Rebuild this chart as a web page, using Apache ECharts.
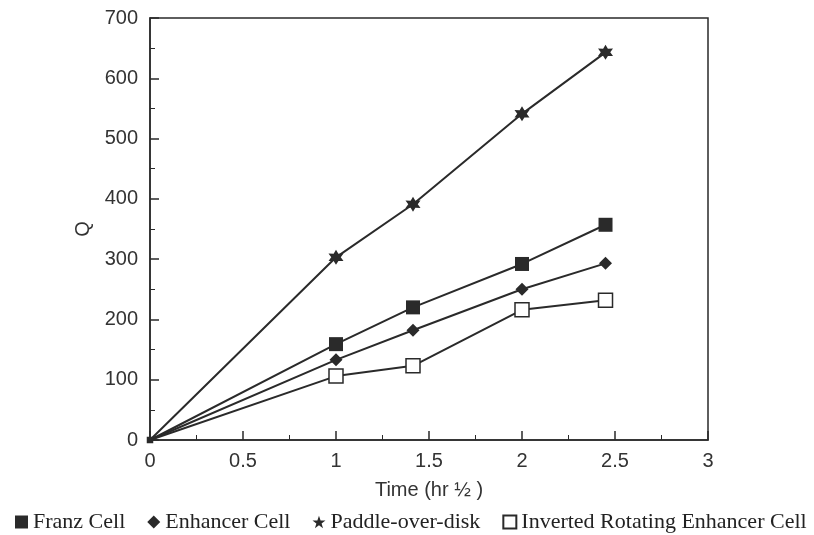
<!DOCTYPE html>
<html lang="en">
<head>
<meta charset="utf-8">
<script src="https://cdn.jsdelivr.net/npm/echarts@6/dist/echarts.min.js"></script>
<style>
  html, body { margin: 0; padding: 0; background: #fff; }
  #main { width: 814px; height: 535px; }
</style>
</head>
<body>
<div id="main"></div>
<script>
// time in hr^1/2 (sqrt of 0, 1, 2, 4, 6 hours)
var times = [0, 1, 1.414, 2, 2.449];
var franz = [0, 159, 220, 292, 357];
var enhancer = [0, 133, 182, 250, 293];
var paddle = [0, 303, 391, 541, 643];
var inverted = [0, 106, 123, 216, 232];
var names = ['Franz Cell', 'Enhancer Cell', 'Paddle-over-disk', 'Inverted Rotating Enhancer Cell'];

var star6 = 'path://M10,0 L12.75,5.24 L18.66,5 L15.5,10 L18.66,15 L12.75,14.76 L10,20 L7.25,14.76 L1.34,15 L4.5,10 L1.34,5 L7.25,5.24 Z';
var star5 = 'path://M10,0 L12.35,6.9 L19.5,6.9 L13.8,11.2 L15.9,18.1 L10,13.9 L4.1,18.1 L6.2,11.2 L0.5,6.9 L7.65,6.9 Z';

var ink = '#2a2a2a';

function pairs(ys) {
    var out = [];
    for (var i = 0; i < times.length; i++) {
        // the origin shows only as a small dark blob
        if (i === 0) out.push({ value: [times[i], ys[i]], symbolSize: 5, itemStyle: { color: ink } });
        else out.push([times[i], ys[i]]);
    }
    return out;
}

var myChart = echarts.init(document.getElementById('main'));

function mkSeries(name, ys, symbol, size, fill) {
    return {
        name: name,
        type: 'line',
        data: pairs(ys),
        symbol: symbol,
        symbolSize: size,
        showAllSymbol: true,
        lineStyle: { color: ink, width: 2 },
        itemStyle: { color: fill, borderColor: ink, borderWidth: fill === '#fff' ? 1.5 : 0 },
        emphasis: { disabled: true },
        animation: false
    };
}

var labelFont = { fontFamily: 'Liberation Sans', fontSize: 20, color: '#333' };

myChart.setOption({
    backgroundColor: '#fff',
    grid: { left: 150, right: 106, top: 18, bottom: 95, show: true, borderColor: ink, borderWidth: 1.5 },
    legend: {
        left: 10,
        top: 506,
        itemWidth: 13,
        itemHeight: 13,
        itemGap: 22,
        textStyle: { fontFamily: 'Liberation Serif', fontSize: 22, color: '#222' },
        data: [
            { name: names[0], icon: 'rect' },
            { name: names[1], icon: 'diamond' },
            { name: names[2], icon: star5 },
            { name: names[3], icon: 'rect' }
        ]
    },
    xAxis: {
        type: 'value',
        min: 0, max: 3, interval: 0.5,
        name: 'Time (hr \u00BD )',
        nameLocation: 'middle',
        nameGap: 40,
        nameTextStyle: labelFont,
        axisLine: { lineStyle: { color: ink, width: 1.5 } },
        axisTick: { inside: true, length: 9, lineStyle: { color: ink, width: 1.5 } },
        minorTick: { show: true, splitNumber: 2, length: 5, lineStyle: { color: ink, width: 1 } },
        splitLine: { show: false },
        axisLabel: Object.assign({ margin: 11 }, labelFont)
    },
    yAxis: {
        type: 'value',
        min: 0, max: 700, interval: 100,
        name: 'Q',
        nameLocation: 'middle',
        nameGap: 22,
        nameRotate: 90,
        nameTextStyle: labelFont,
        axisLine: { lineStyle: { color: ink, width: 1.5 } },
        axisTick: { inside: true, length: 9, lineStyle: { color: ink, width: 1.5 } },
        minorTick: { show: true, splitNumber: 2, length: 5, lineStyle: { color: ink, width: 1 } },
        splitLine: { show: false },
        axisLabel: Object.assign({ margin: 12 }, labelFont)
    },
    series: [
        mkSeries(names[0], franz, 'rect', 14, ink),
        mkSeries(names[1], enhancer, 'diamond', 13, ink),
        mkSeries(names[2], paddle, star6, 15, ink),
        mkSeries(names[3], inverted, 'rect', 14, '#fff')
    ]
});
</script>
</body>
</html>
